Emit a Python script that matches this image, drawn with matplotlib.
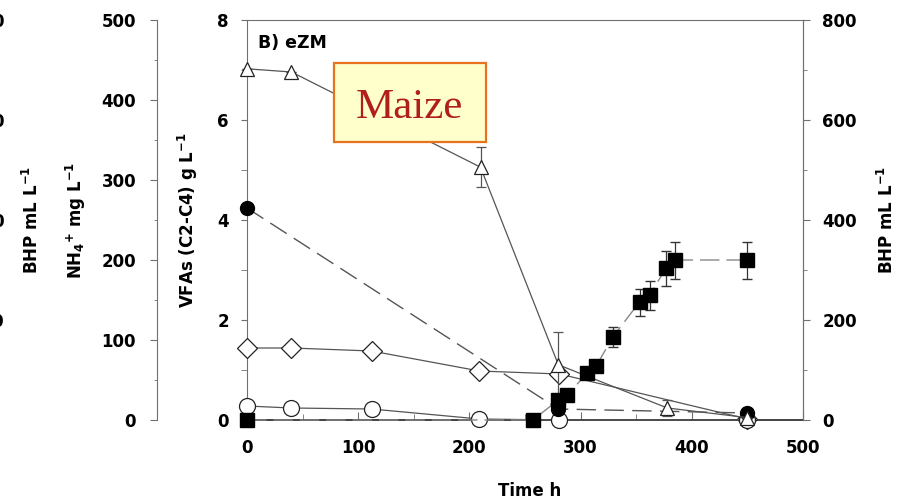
import matplotlib
matplotlib.use('Agg')
import matplotlib.pyplot as plt
from matplotlib.patches import Rectangle
from matplotlib.ticker import MultipleLocator

plt.rcParams['font.family'] = 'DejaVu Sans'
plt.rcParams['font.weight'] = 'bold'
plt.rcParams['axes.labelweight'] = 'bold'
plt.rcParams['font.size'] = 12
plt.rcParams['mathtext.default'] = 'bf'

# NH4+ (open triangles), mg/L
t_nh4 = [0, 40, 210, 280, 378, 450]
nh4 = [439, 435, 316, 69, 15, 3]
nh4_err = [0, 0, 25, 41, 10, 0]

# VFAs (filled circles), g/L
t_vfa = [0, 280, 450]
vfa = [4.24, 0.22, 0.14]

# open diamonds and open circles, g/L
t_dia = [0, 40, 112, 209, 281, 450]
dia = [1.44, 1.44, 1.38, 0.98, 0.92, 0.02]
t_oc = [0, 40, 112, 209, 281, 450]
oc = [0.28, 0.24, 0.22, 0.02, 0.0, 0.0]

# BHP (filled squares), mL/L
t_bhp = [0, 257, 280, 288, 306, 314, 329, 353, 362, 377, 385, 450]
bhp = [0, 0, 40, 50, 94, 108, 166, 236, 250, 304, 320, 320]
bhp_err = [0, 0, 0, 0, 10, 10, 20, 27, 29, 35, 37, 37]

spine_c = '#707070'
line_c = '#555555'
edge_c = '#222222'

fig = plt.figure(figsize=(9.02, 5.01), dpi=100)
ax = fig.add_axes([247/902, 1-420/501, 556/902, 400/501])

ax.set_xlim(0, 500)
ax.set_ylim(0, 8)
ax.set_xticks([0, 100, 200, 300, 400, 500])
ax.xaxis.set_minor_locator(MultipleLocator(50))
ax.set_yticks([0, 2, 4, 6, 8])
ax.yaxis.set_minor_locator(MultipleLocator(1))
ax.tick_params(axis='x', which='both', direction='in', pad=14, color=spine_c)
ax.tick_params(axis='x', which='major', length=6)
ax.tick_params(axis='x', which='minor', length=4)
ax.tick_params(axis='y', which='both', direction='out', pad=9, color=spine_c, length=4)
for s in ax.spines.values():
    s.set_color(spine_c)
ax.spines['bottom'].set_color('#222222')
ax.spines['bottom'].set_linewidth(1.2)
ax.set_ylabel('VFAs (C2-C4) g L$^{-1}$')
ax.yaxis.set_label_coords(-0.0845, 0.5)
ax.set_xlabel('Time h')
ax.xaxis.set_label_coords(0.509, -0.155)

ax.plot(t_dia, dia, '-', color=line_c, lw=0.9, marker='D', ms=10,
        mfc='white', mec=edge_c, mew=0.9, zorder=3, clip_on=False)
ax.plot(t_oc, oc, '-', color=line_c, lw=0.9, marker='o', ms=11.5,
        mfc='white', mec=edge_c, mew=0.9, zorder=3, clip_on=False)
ax.plot(t_vfa, vfa, color=line_c, lw=1, dashes=(14, 6), marker='o', ms=10,
        mfc='black', mec='black', zorder=4, clip_on=False)

ax.text(0.02, 0.9425, 'B) eZM', transform=ax.transAxes, fontsize=12.5,
        fontweight='bold', va='center', ha='left')

# NH4+ axis (moved to the left)
ax_n = ax.twinx()
ax_n.set_ylim(0, 500)
ax_n.yaxis.set_ticks_position('left')
ax_n.yaxis.set_label_position('left')
ax_n.spines['left'].set_position(('axes', -0.162))
ax_n.spines['left'].set_visible(True)
ax_n.spines['left'].set_color(spine_c)
for k in ['right', 'top', 'bottom']:
    ax_n.spines[k].set_visible(False)
ax_n.set_yticks([0, 100, 200, 300, 400, 500])
ax_n.yaxis.set_minor_locator(MultipleLocator(50))
ax_n.tick_params(axis='y', which='major', direction='out', length=5, pad=10, color=spine_c)
ax_n.tick_params(axis='y', which='minor', direction='out', length=2, color=spine_c)
ax_n.set_ylabel('NH$_4$$^{+}$ mg L$^{-1}$')
ax_n.yaxis.set_label_coords(-0.286, 0.5)
ax_n.errorbar(t_nh4, nh4, yerr=nh4_err, fmt='-', color=line_c, lw=0.9,
              marker='^', ms=10, mfc='white', mec=edge_c, mew=0.9,
              ecolor=line_c, elinewidth=0.9, capsize=3.6, zorder=3, clip_on=False)

# far-left BHP axis (mostly off the figure)
ax_b = ax.twinx()
ax_b.set_ylim(0, 800)
ax_b.yaxis.set_ticks_position('left')
ax_b.yaxis.set_label_position('left')
ax_b.spines['left'].set_position(('axes', -0.426))
for k in ax_b.spines:
    ax_b.spines[k].set_visible(False)
ax_b.set_yticks([200, 400, 600, 800])
ax_b.tick_params(axis='y', length=0, pad=4)
ax_b.set_ylabel('BHP mL L$^{-1}$')
ax_b.yaxis.set_label_coords(-0.369, 0.5)

# right BHP axis
ax_r = ax.twinx()
ax_r.set_ylim(0, 800)
for k in ['left', 'top', 'bottom']:
    ax_r.spines[k].set_visible(False)
ax_r.spines['right'].set_color(spine_c)
ax_r.set_yticks([0, 200, 400, 600, 800])
ax_r.yaxis.set_minor_locator(MultipleLocator(100))
ax_r.tick_params(axis='y', which='major', direction='out', length=5, pad=9, color=spine_c)
ax_r.tick_params(axis='y', which='minor', direction='out', length=3, color=spine_c)
ax_r.set_ylabel('BHP mL L$^{-1}$')
ax_r.yaxis.set_label_coords(1.133, 0.5)
ax_r.errorbar(t_bhp, bhp, yerr=bhp_err, fmt='none', ecolor='#333333',
              elinewidth=0.9, capsize=3.6, zorder=4)
ax_r.plot(t_bhp, bhp, color='#888888', lw=1, dashes=(14, 5), marker='s', ms=10.5,
          mfc='black', mec='black', zorder=5, clip_on=False)

# Maize label box
fig.patches.append(Rectangle((334/902, 1-142/501), 152/902, 79/501,
                             transform=fig.transFigure, facecolor='#FFFFCC',
                             edgecolor='#E8731E', lw=1.6, zorder=10))
fig.text(409/902, 1-118/501, 'Maize', family='Liberation Serif', fontweight='normal',
         fontsize=31, color='#B01E1E', ha='center', va='baseline', zorder=11)

fig.savefig('out.png', dpi=100)
